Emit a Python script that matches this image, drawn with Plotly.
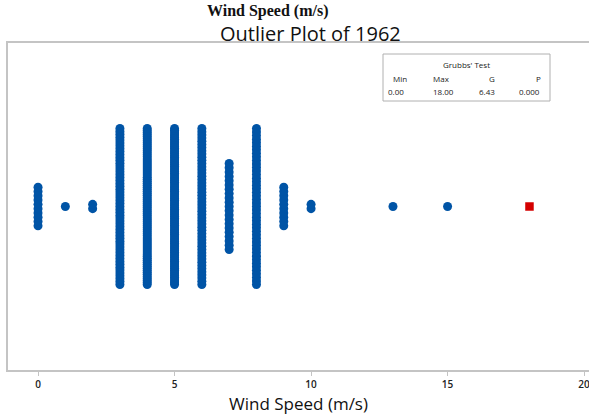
import numpy as np
import plotly.graph_objects as go

# Daily wind speed values for 1962 and how many days had each value
speeds = [0, 1, 2, 3, 4, 5, 6, 7, 8, 9, 10, 13, 15, 18]
day_counts = [10, 1, 2, 55, 78, 88, 50, 21, 45, 10, 2, 1, 1, 1]
outlier_speed = 18

# Grubbs' test summary
grubbs_headers = ["Min", "Max", "G", "P"]
grubbs_values = ["0.00", "18.00", "6.43", "0.000"]

BLUE = "#0054A6"
RED = "#D40000"
FRAME = "#c4c4c4"
SANS = "Open Sans"

# vertical stacking of equal values (dot-plot style)
STEP = 0.0263
MAX_HALF = 0.477

xs, ys, out_x, out_y = [], [], [], []
for s, n in zip(speeds, day_counts):
    step = STEP if n < 2 else min(STEP, 2 * MAX_HALF / (n - 1))
    offs = (np.arange(n) - (n - 1) / 2) * step
    if s == outlier_speed:
        out_x += [s] * n
        out_y += list(offs)
    else:
        xs += [s] * n
        ys += list(offs)

fig = go.Figure()
fig.add_trace(go.Scatter(
    x=xs, y=ys, mode="markers",
    marker=dict(symbol="circle", size=9, color=BLUE, line=dict(width=0)),
    showlegend=False, hoverinfo="x",
))
fig.add_trace(go.Scatter(
    x=out_x, y=out_y, mode="markers",
    marker=dict(symbol="square", size=8.5, color=RED, line=dict(width=0)),
    showlegend=False, hoverinfo="x",
))

L, R, T, B, W, H = 8, 0, 43, 46, 589, 416
pw, ph = W - L - R, H - T - B


def px(xp):
    return (xp - L) / pw


def py(yp):
    return (H - B - yp) / ph


annotations = [
    dict(text="<b>Wind Speed (m/s)</b>", xref="paper", yref="paper",
         x=px(268), y=py(11), showarrow=False, xanchor="center", yanchor="middle",
         font=dict(family="Liberation Serif", size=16, color="#111")),
    dict(text="Outlier Plot of 1962", xref="paper", yref="paper",
         x=px(310), y=py(33), showarrow=False, xanchor="center", yanchor="middle",
         font=dict(family=SANS, size=20, color="#111")),
    dict(text="Grubbs' Test", xref="paper", yref="paper",
         x=px(466), y=py(65), showarrow=False, xanchor="center", yanchor="middle",
         font=dict(family=SANS, size=8, color="#222")),
]

col_centers = [400, 441, 492, 538]
col_centers_v = [396, 443, 487, 529]
for c, cv, h, v in zip(col_centers, col_centers_v, grubbs_headers, grubbs_values):
    annotations.append(dict(text=h, xref="paper", yref="paper", x=px(c), y=py(78),
                            showarrow=False, xanchor="center", yanchor="middle",
                            font=dict(family=SANS, size=8, color="#222")))
    annotations.append(dict(text=v, xref="paper", yref="paper", x=px(cv), y=py(91),
                            showarrow=False, xanchor="center", yanchor="middle",
                            font=dict(family=SANS, size=8, color="#222")))

fig.update_layout(
    width=W, height=H,
    margin=dict(l=L, r=R, t=T, b=B),
    paper_bgcolor="white", plot_bgcolor="white",
    annotations=annotations,
    shapes=[dict(type="rect", xref="paper", yref="paper",
                 x0=px(383), x1=px(550), y0=py(101), y1=py(54),
                 line=dict(color="#b0b0b0", width=1), fillcolor="white", layer="below")],
    xaxis=dict(
        range=[-1.1, 20.18], tickvals=[0, 5, 10, 15, 20],
        ticks="outside", ticklen=4, tickcolor=FRAME, tickwidth=1,
        ticklabeloverflow="allow",
        showline=True, linecolor=FRAME, linewidth=2, mirror=True,
        showgrid=False, zeroline=False,
        tickfont=dict(family=SANS, size=10, color="#222", weight=600),
        title=dict(text="Wind Speed (m/s)", standoff=8,
                   font=dict(family=SANS, size=17, color="#111")),
    ),
    yaxis=dict(
        range=[-1, 1], showticklabels=False, ticks="",
        showline=True, linecolor=FRAME, linewidth=2, mirror=False,
        showgrid=False, zeroline=False,
    ),
)

fig.write_html("out.html")
